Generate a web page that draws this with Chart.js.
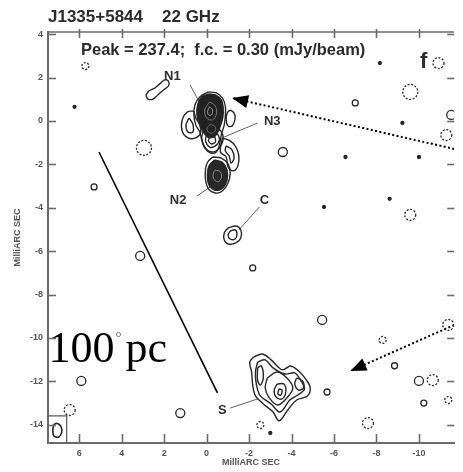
<!DOCTYPE html>
<html>
<head>
<meta charset="utf-8">
<script src="https://cdn.jsdelivr.net/npm/chart.js@4/dist/chart.umd.min.js"></script>
<style>
  html, body { margin: 0; padding: 0; background: #fff; }
</style>
</head>
<body>
<canvas id="map" width="463" height="472"></canvas>
<script>
// ---- axis ticks (milliarcseconds) ----
const xTicks = [6, 4, 2, 0, -2, -4, -6, -8, -10];
const yTicks = [4, 2, 0, -2, -4, -6, -8, -10, -12, -14];
const xRange = [-11.66, 7.47];
const yRange = [-14.84, 4.10];

// ---- header text ----
const sourceName = 'J1335+5844';
const bandName = '22 GHz';
const peakNote = 'Peak = 237.4;  f.c. = 0.30 (mJy/beam)';
const panelTag = 'f';
const axisName = 'MilliARC SEC';

// ---- positive contours, [RA offset, Dec offset] in mas ----
const n1Outer = [[-0.09,1.34],[-0.46,1.29],[-0.74,1.06],[-0.88,0.69],[-0.88,0.23],[-0.83,-0.18],[-0.69,-0.65],[-0.60,-1.11],[-0.46,-1.43],[-0.18,-1.47],[0.09,-1.24],[0.23,-0.88],[0.32,-0.51],[0.51,-0.18],[0.60,0.28],[0.55,0.74],[0.32,1.11]];
const n1Core = [[-0.09,1.24],[-0.41,1.20],[-0.69,0.97],[-0.78,0.60],[-0.76,0.14],[-0.62,-0.30],[-0.41,-0.69],[-0.09,-0.76],[0.18,-0.46],[0.36,-0.09],[0.46,0.32],[0.41,0.78],[0.23,1.11]];
const n1InnerA = [[-0.14,0.88],[-0.41,0.69],[-0.46,0.32],[-0.28,0.05],[0.00,0.14],[0.09,0.51]];
const n1InnerB = [[-0.14,0.65],[-0.28,0.51],[-0.23,0.28],[-0.09,0.28],[-0.05,0.46]];
const n1InnerC = [[-0.18,-0.14],[-0.41,-0.28],[-0.37,-0.51],[-0.14,-0.55],[-0.02,-0.35]];
const n3Ring1 = [[0.14,-0.41],[-0.55,-0.37],[-0.78,-0.74],[-0.60,-1.24],[-0.23,-1.43],[0.09,-1.20],[0.23,-0.78]];
const n3Ring2 = [[0.00,-0.60],[-0.46,-0.55],[-0.60,-0.88],[-0.41,-1.15],[-0.14,-1.20],[0.05,-0.92]];
const n3Ring3 = [[-0.14,-0.74],[-0.37,-0.74],[-0.41,-0.97],[-0.23,-1.06],[-0.09,-0.92]];
const earOuter = [[0.60,0.46],[0.92,0.41],[1.15,0.05],[1.15,-0.46],[0.88,-0.78],[0.51,-0.78],[0.28,-0.55],[0.32,-0.18],[0.51,0.14]];
const earInner = [[0.83,0.14],[0.97,-0.18],[0.88,-0.51],[0.65,-0.51],[0.65,-0.14]];
const lobeOuter = [[-0.74,-0.78],[-1.11,-0.92],[-1.38,-1.20],[-1.52,-1.61],[-1.47,-2.07],[-1.24,-2.30],[-1.01,-2.12],[-0.92,-1.66],[-0.65,-1.43]];
const lobeInner = [[-0.92,-1.15],[-1.20,-1.34],[-1.29,-1.71],[-1.15,-1.94],[-1.06,-1.61],[-0.88,-1.38]];
const n2Outer = [[-0.28,-1.66],[-0.69,-1.71],[-1.01,-1.98],[-1.11,-2.40],[-1.01,-2.86],[-0.74,-3.23],[-0.41,-3.32],[-0.09,-3.13],[0.05,-2.72],[0.05,-2.21],[-0.05,-1.89]];
const n2Core = [[-0.37,-1.80],[-0.74,-1.90],[-0.96,-2.26],[-0.96,-2.74],[-0.72,-3.12],[-0.37,-3.18],[-0.10,-2.92],[-0.04,-2.44],[-0.12,-2.05]];
const n2Inner = [[-0.41,-2.26],[-0.65,-2.35],[-0.69,-2.63],[-0.51,-2.81],[-0.32,-2.63],[-0.32,-2.40]];
const sideRing = [[-1.11,0.51],[-1.29,0.37],[-1.34,0.09],[-1.20,-0.23],[-1.01,-0.23],[-0.92,0.05],[-0.97,0.37]];
const jetLoop = [[2.86,1.20],[2.76,1.01],[2.53,1.01],[2.30,1.20],[2.03,1.43],[1.80,1.61],[1.80,1.84],[1.98,1.89],[2.21,1.71],[2.44,1.52],[2.72,1.38]];
const cOuter = [[-1.01,-4.93],[-1.38,-4.84],[-1.61,-5.02],[-1.61,-5.39],[-1.38,-5.62],[-1.01,-5.67],[-0.83,-5.48],[-0.83,-5.16]];
const cInner = [[-1.11,-5.07],[-1.34,-5.02],[-1.43,-5.21],[-1.34,-5.44],[-1.11,-5.44],[-1.01,-5.25]];
const sOuter = [[-2.21,-10.88],[-2.63,-10.74],[-3.04,-11.01],[-3.32,-11.29],[-3.59,-11.47],[-3.96,-11.29],[-4.38,-11.57],[-4.70,-11.94],[-4.88,-12.30],[-4.75,-12.67],[-4.24,-12.86],[-3.82,-13.32],[-3.41,-13.82],[-3.13,-13.41],[-2.67,-13.04],[-2.30,-12.67],[-2.17,-12.17],[-2.12,-11.57],[-2.03,-11.11]];
const sMid = [[-2.40,-11.11],[-2.76,-11.01],[-3.13,-11.38],[-3.69,-11.66],[-4.15,-11.61],[-4.42,-11.94],[-4.61,-12.35],[-4.29,-12.63],[-3.92,-12.86],[-3.46,-13.41],[-3.04,-13.04],[-2.53,-12.67],[-2.35,-12.17],[-2.30,-11.57]];
const sCore = [[-2.86,-11.84],[-3.32,-11.57],[-3.78,-11.84],[-4.06,-12.30],[-3.78,-12.76],[-3.36,-13.09],[-2.95,-12.76],[-2.76,-12.30]];
const sInner = [[-3.32,-12.12],[-3.64,-12.12],[-3.73,-12.49],[-3.55,-12.81],[-3.27,-12.72],[-3.18,-12.40]];
const sPeak = [[-3.41,-12.35],[-3.55,-12.40],[-3.50,-12.63],[-3.36,-12.58]];
const sLobeA = [[-2.40,-11.38],[-2.58,-11.29],[-2.67,-11.84],[-2.53,-12.17],[-2.40,-11.94]];
const sLobeB = [[-4.24,-11.84],[-4.52,-11.98],[-4.56,-12.30],[-4.33,-12.40],[-4.15,-12.12]];

// ---- restoring beam ----
const beamBox = [[7.47,-13.59],[6.59,-13.59],[6.59,-14.84]];
const beamShape = [[7.05,-13.92],[6.87,-14.06],[6.82,-14.33],[6.96,-14.56],[7.19,-14.52],[7.24,-14.24],[7.19,-13.99]];

// ---- isolated weak features (centres, mas) ----
const spotsSmall = [[5.30,-3.04],[-2.17,-6.77],[-7.00,0.83],[-5.67,-12.49],[-10.23,-13.00],[-8.85,-11.28]];
const spotsMid = [[-3.59,-1.43],[-5.44,-9.17],[1.24,-13.46],[5.90,-11.98],[-10.00,-11.98],[3.13,-6.22],[-11.52,0.28]];
const spotsDot = [[6.22,0.65],[-5.53,-3.96],[-8.62,-3.59],[-8.16,2.67],[-9.22,-0.09],[-6.54,-1.66],[-10.00,-1.66],[-3.00,-14.38]];
const negSmall = [[5.71,2.53],[-2.53,-14.01],[-8.29,-10.09],[-11.38,-12.86]];
const negMid = [[-11.29,-0.65],[-9.59,-4.33],[-11.38,-9.40],[-10.65,-11.94],[6.45,-13.32],[-7.60,-13.92],[-10.92,2.67]];
const negLarge = [[2.95,-1.24],[-9.59,1.34]];

// ---- component labels and leader lines ----
const compNames = ['N1', 'N3', 'N2', 'C', 'S'];
const compLabelAt = [[1.61,2.03],[-3.09,0.00],[1.34,-3.64],[-2.72,-3.64],[-0.74,-13.36]];
const compLeaders = [
  [[0.78,1.66],[0.32,0.83]],
  [[-2.40,-0.09],[-0.83,-0.74]],
  [[0.46,-3.46],[-0.23,-3.00]],
  [[-2.49,-3.96],[-1.52,-5.02]],
  [[-1.11,-13.23],[-2.40,-12.81]]
];

// ---- linear scale bar and pointer arrows ----
const scaleBar = [[5.07,-1.43],[-0.51,-12.53]];
const scaleBarText = ['100', '°', 'pc'];
const scaleBarTextAt = [7.45, -11.10];
const arrowToN1 = [[-11.66,-1.29],[-1.20,1.06]];
const arrowToS = [[-11.66,-9.40],[-6.77,-11.52]];

// ---------------------------------------------------------------
const INK = '#262626';
const pts = a => a.map(([x, y]) => ({ x, y }));
const loop = a => pts(a.concat([a[0]]));

function contour(ring, o = {}) {
  return {
    data: loop(ring), showLine: true, pointRadius: 0, tension: 0.35,
    borderColor: o.color || INK, borderWidth: o.width || 1.4,
    fill: o.fill ? 'shape' : false, backgroundColor: o.fill || 'transparent'
  };
}
function segment(pair, o = {}) {
  return {
    data: pts(pair), showLine: true, pointRadius: 0, tension: 0,
    borderColor: o.color || '#555', borderWidth: o.width || 1,
    borderDash: o.dash || [], clip: o.clip === undefined ? 0 : o.clip
  };
}
function spots(list, r, o = {}) {
  return {
    data: pts(list), showLine: false, pointStyle: 'circle', pointRadius: r,
    pointBorderColor: INK, pointBorderWidth: o.width || 1.3,
    pointBackgroundColor: o.solid ? INK : 'transparent', dashedRing: !!o.dashed
  };
}

const datasets = [
  // drawn last -> on top
  contour(n1InnerB, { color: '#9a9a9a', width: 1 }),
  contour(n1InnerA, { color: '#777', width: 1 }),
  contour(n1InnerC, { color: '#6a6a6a', width: 1 }),
  contour(n2Inner, { color: '#8a8a8a', width: 1 }),
  contour(n1Core, { fill: '#222' }),
  contour(n2Core, { fill: '#282828' }),
  contour(n3Ring3), contour(n3Ring2), contour(n3Ring1),
  contour(n1Outer), contour(n2Outer),
  contour(earInner), contour(earOuter),
  contour(lobeInner), contour(lobeOuter),
  contour(sideRing), contour(jetLoop),
  contour(cInner), contour(cOuter),
  contour(sPeak), contour(sInner), contour(sCore), contour(sMid), contour(sOuter),
  contour(sLobeA), contour(sLobeB),
  contour(beamShape, { width: 1.6 }),
  { data: pts(beamBox), showLine: true, pointRadius: 0, borderColor: '#555', borderWidth: 1.2 },
  spots(spotsSmall, 3),
  spots(spotsMid, 4.5),
  spots(spotsDot, 1.5, { solid: true }),
  spots(negSmall, 3.5, { dashed: true }),
  spots(negMid, 5.5, { dashed: true }),
  spots(negLarge, 7.5, { dashed: true }),
  ...compLeaders.map(p => segment(p, { color: '#606060', width: 1 })),
  segment(scaleBar, { color: '#000', width: 1.6 }),
  segment(arrowToN1, { color: '#000', width: 2, dash: [2, 2.4] }),
  segment(arrowToS, { color: '#000', width: 2, dash: [2, 2.4] })
];

const FONT = '"Liberation Sans", Arial, sans-serif';

// dashed outlines for negative-contour rings
const ringDash = {
  id: 'ringDash',
  beforeDatasetDraw(chart, args) {
    if (chart.data.datasets[args.index].dashedRing) chart.ctx.setLineDash([2, 1.6]);
  },
  afterDatasetDraw(chart) { chart.ctx.setLineDash([]); }
};

// frame top edge and inward tick marks on all four sides
const frame = {
  id: 'frame',
  afterDraw(chart) {
    const { ctx, chartArea: a, scales: { x, y } } = chart;
    ctx.save();
    ctx.strokeStyle = '#6a6a6a';
    ctx.lineWidth = 1.6;
    const seg = (x1, y1, x2, y2) => { ctx.beginPath(); ctx.moveTo(x1, y1); ctx.lineTo(x2, y2); ctx.stroke(); };
    seg(a.left, a.top, a.right, a.top);
    xTicks.forEach(v => {
      const p = Math.round(x.getPixelForValue(v)) + 0.5;
      seg(p, a.bottom, p, a.bottom - 9);
      seg(p, a.top - 3, p, a.top + 6);
    });
    yTicks.forEach(v => {
      const p = Math.round(y.getPixelForValue(v)) + 0.5;
      seg(a.left, p, a.left + 8, p);
      seg(a.right, p, a.right - 7, p);
    });
    ctx.restore();
  }
};

// labels, arrowheads, scale-bar text and header
const notes = {
  id: 'notes',
  afterDatasetsDraw(chart) {
    const { ctx, scales: { x, y } } = chart;
    const px = ([u, v]) => [x.getPixelForValue(u), y.getPixelForValue(v)];
    ctx.save();

    // arrowheads
    ctx.fillStyle = '#000';
    [arrowToN1, arrowToS].forEach(([tail, tip]) => {
      const [x0, y0] = px(tail), [x1, y1] = px(tip);
      const ang = Math.atan2(y1 - y0, x1 - x0);
      const L = 16, W = 6.5;
      ctx.beginPath();
      ctx.moveTo(x1, y1);
      ctx.lineTo(x1 - L * Math.cos(ang) + W * Math.sin(ang), y1 - L * Math.sin(ang) - W * Math.cos(ang));
      ctx.lineTo(x1 - L * Math.cos(ang) - W * Math.sin(ang), y1 - L * Math.sin(ang) + W * Math.cos(ang));
      ctx.closePath();
      ctx.fill();
    });

    // component names
    ctx.fillStyle = '#2e2e2e';
    ctx.font = 'bold 13px ' + FONT;
    ctx.textAlign = 'center';
    ctx.textBaseline = 'middle';
    compNames.forEach((n, i) => {
      const [lx, ly] = px(compLabelAt[i]);
      ctx.fillText(n, lx, ly);
    });

    // linear scale annotation
    const [bx, by] = px(scaleBarTextAt);
    ctx.fillStyle = '#000';
    ctx.textAlign = 'left';
    ctx.textBaseline = 'alphabetic';
    ctx.font = '44px "Liberation Serif", "Times New Roman", serif';
    ctx.fillText(scaleBarText[0], bx, by);
    let cx = bx + ctx.measureText(scaleBarText[0]).width;
    ctx.font = '15px "Liberation Serif", serif';
    ctx.fillStyle = '#555';
    ctx.fillText(scaleBarText[1], cx + 1, by - 20);
    cx += 11;
    ctx.fillStyle = '#000';
    ctx.font = '44px "Liberation Serif", "Times New Roman", serif';
    ctx.fillText(scaleBarText[2], cx, by);

    // header
    ctx.fillStyle = '#2a2a2a';
    ctx.font = 'bold 17px ' + FONT;
    ctx.fillText(sourceName, 48, 22);
    ctx.fillText(bandName, 162, 22);
    ctx.font = 'bold 16.5px ' + FONT;
    ctx.fillText(peakNote, 81, 55);
    ctx.font = 'bold 22px ' + FONT;
    ctx.fillText(panelTag, 420, 68);
    ctx.restore();
  }
};

const tickFont = { family: FONT, size: 9, weight: 'bold' };

new Chart(document.getElementById('map'), {
  type: 'scatter',
  data: { datasets },
  options: {
    responsive: false,
    animation: false,
    events: [],
    devicePixelRatio: 1,
    layout: { padding: { top: 32, right: 0, left: 0, bottom: 0 } },
    plugins: { legend: { display: false }, tooltip: { enabled: false } },
    scales: {
      x: {
        type: 'linear', reverse: true, min: xRange[0], max: xRange[1],
        afterBuildTicks: s => { s.ticks = xTicks.map(v => ({ value: v })); },
        afterFit: s => { s.height = 29; },
        grid: { display: false, drawTicks: false },
        border: { display: true, color: '#6a6a6a', width: 2 },
        ticks: { font: tickFont, color: '#555', padding: 5, maxRotation: 0, autoSkip: false },
        title: { display: true, text: axisName, font: tickFont, color: '#555', padding: { top: 0, bottom: 4 } }
      },
      y: {
        type: 'linear', min: yRange[0], max: yRange[1],
        afterBuildTicks: s => { s.ticks = yTicks.map(v => ({ value: v })); },
        afterFit: s => { s.width = 48; },
        grid: { display: false, drawTicks: false },
        border: { display: true, color: '#6a6a6a', width: 2 },
        ticks: { font: tickFont, color: '#555', padding: 5, autoSkip: false },
        title: { display: true, text: axisName, font: tickFont, color: '#555', padding: { top: 12, bottom: 0 } }
      }
    }
  },
  plugins: [ringDash, frame, notes]
});
</script>
</body>
</html>
